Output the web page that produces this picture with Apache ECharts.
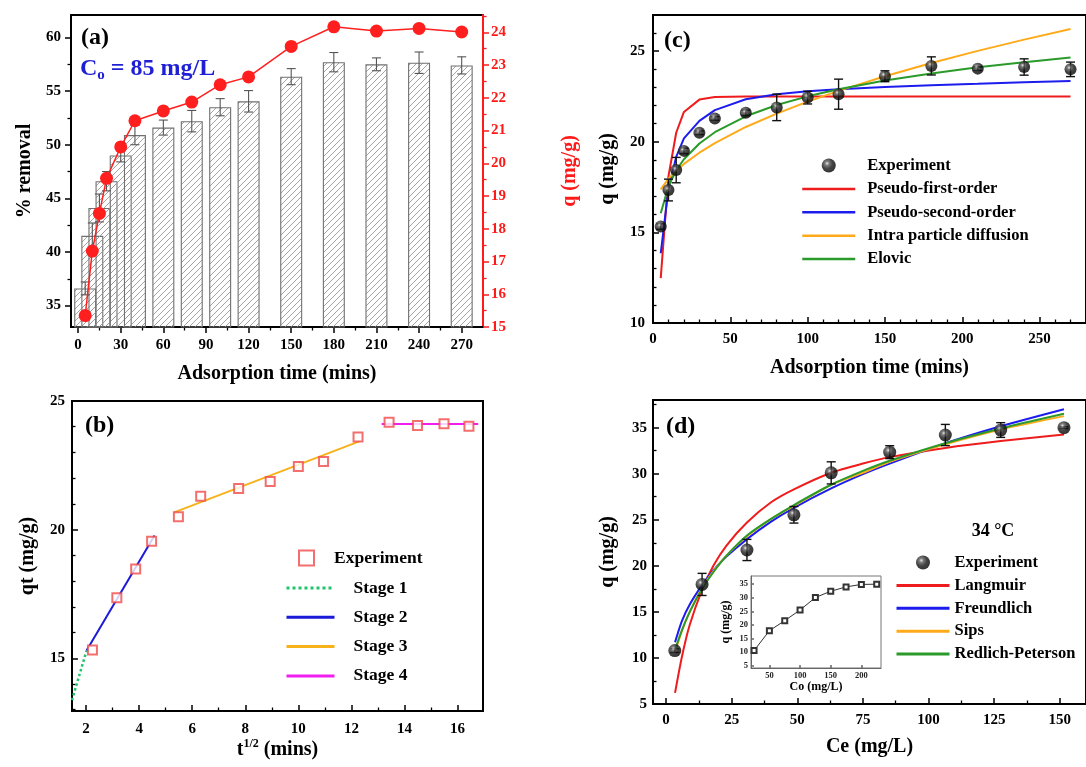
<!DOCTYPE html>
<html><head><meta charset="utf-8">
<script src="https://cdn.jsdelivr.net/npm/echarts@6/dist/echarts.min.js"></script>
<style>html,body{margin:0;padding:0;background:#fff}#c{width:1086px;height:767px}</style>
</head><body><div id="c"></div>
<script>
// ---------- Panel (a) ----------
const timeA = [5,10,15,20,30,40,60,80,100,120,150,180,210,240,270];
const removalPct = [36.6,41.5,44.1,46.6,49.0,50.9,51.6,52.2,53.5,54.05,56.35,57.7,57.5,57.65,57.4];
const removalErr = [0.6,1.2,1.3,0.9,0.6,0.9,0.7,1.0,0.8,1.0,0.75,0.9,0.6,1.0,0.8];
const qA = [15.35,17.32,18.47,19.54,20.5,21.3,21.6,21.87,22.4,22.64,23.57,24.17,24.04,24.12,24.01];
const xMajorA = [0,30,60,90,120,150,180,210,240,270];
const xMinorA = [15,45,75,105,135,165,195,225,255];
const yMajorA = [35,40,45,50,55,60];
const yMinorA = [37.5,42.5,47.5,52.5,57.5];
const y2MajorA = [15,16,17,18,19,20,21,22,23,24];
const y2MinorA = [15.5,16.5,17.5,18.5,19.5,20.5,21.5,22.5,23.5,24.5];
// ---------- Panel (b) ----------
const sqrtT = [2.24,3.16,3.87,4.47,5.48,6.32,7.75,8.94,10.0,10.95,12.25,13.42,14.49,15.49,16.43];
const qtB = [15.32,17.35,18.47,19.55,20.5,21.3,21.6,21.87,22.45,22.65,23.6,24.17,24.05,24.12,24.02];
const stage1X = [1.47,2.02], stage1Y = [13.37,15.3];
const stage2X = [2.02,4.58], stage2Y = [15.3,19.77];
const stage3X = [5.32,12.32], stage3Y = [20.67,23.44];
const stage4X = [13.14,16.78], stage4Y = [24.11,24.11];
const xMajorB = [2,4,6,8,10,12,14,16];
const xMinorB = [3,5,7,9,11,13,15];
const yMajorB = [15,20,25];
const yMinorB = [13,14,16,17,18,19,21,22,23,24];
// ---------- Panel (c) ----------
const timeC = [5,10,15,20,30,40,60,80,100,120,150,180,210,240,270];
const qC = [15.32,17.34,18.44,19.5,20.5,21.29,21.6,21.9,22.44,22.63,23.62,24.19,24.04,24.13,24.0];
const errC = [0.15,0.6,0.7,0.15,0.1,0.1,0.15,0.73,0.35,0.83,0.3,0.5,0.1,0.45,0.4];
const pfoC = [12.48,18.1,20.5,21.65,22.33,22.48,22.5,22.5,22.5,22.5,22.5,22.5,22.5,22.5,22.5];
const psoC = [13.85,17.4,19.17,20.19,21.16,21.75,22.35,22.63,22.79,22.9,23.03,23.12,23.2,23.29,23.36];
const ipdC = [17.38,17.97,18.4,18.78,19.4,19.93,20.82,21.56,22.22,22.81,23.62,24.35,25.02,25.64,26.23];
const elovicC = [16.06,17.55,18.43,19.04,19.91,20.53,21.41,22.03,22.51,22.9,23.38,23.77,24.11,24.39,24.65];
const xMajorC = [0,50,100,150,200,250];
const xMinorC = [10,20,30,40,60,70,80,90,110,120,130,140,160,170,180,190,210,220,230,240,260,270];
const yMajorC = [10,15,20,25];
const yMinorC = [11,12,13,14,16,17,18,19,21,22,23,24,26];
// ---------- Panel (d) ----------
const ceD = [3.3,13.7,30.8,48.7,62.9,85.2,106.4,127.5,151.6];
const qD = [10.8,17.98,21.72,25.54,30.09,32.34,34.2,34.74,35.0];
const errD = [0.2,1.2,1.15,0.9,1.2,0.7,1.15,0.8,0.1];
const ceFit = [3.4,6,9,13.7,18,23,30.8,40,48.7,62.9,75,85.2,106.4,127.5,151.6];
const langD = [6.2,10.1,13.6,17.4,20.0,22.2,24.7,26.9,28.3,30.1,31.1,31.8,32.8,33.55,34.25];
const freuD = [11.7,14.0,15.8,17.9,19.5,21.0,22.9,24.8,26.3,28.4,29.95,31.1,33.3,35.15,37.0];
const sipsD = [10.6,12.9,15.0,17.6,19.4,21.1,23.2,25.1,26.5,28.8,30.1,31.3,33.2,34.8,36.25];
const rpD = [10.9,13.0,15.0,17.5,19.3,21.1,23.3,25.1,26.6,28.8,30.3,31.4,33.3,34.9,36.5];
const xMajorD = [0,25,50,75,100,125,150];
const xMinorD = [12.5,37.5,62.5,87.5,112.5,137.5];
const yMajorD = [5,10,15,20,25,30,35];
const yMinorD = [7.5,12.5,17.5,22.5,27.5,32.5,37.5];
// inset
const coInset = [25,50,75,100,125,150,175,200,225];
const qInset = [10.6,17.9,21.6,25.5,30.1,32.4,34.0,34.9,35.0];
const xMajorIn = [50,100,150,200];
const yMajorIn = [5,10,15,20,25,30,35];

const FONT = 'Liberation Serif';
const pair = (xs, ys) => xs.map((x, i) => [x, ys[i]]);
const trip = (xs, ys, es) => xs.map((x, i) => [x, ys[i], es[i]]);

function hatch(){
  const c = document.createElement('canvas'); c.width = 6; c.height = 6;
  const g = c.getContext('2d');
  g.strokeStyle = '#9a9a9a'; g.lineWidth = 0.9;
  g.beginPath();
  g.moveTo(0,6); g.lineTo(6,0);
  g.moveTo(-1,1); g.lineTo(1,-1);
  g.moveTo(5,7); g.lineTo(7,5);
  g.stroke();
  return c;
}
const sphere = {type:'radial', x:0.38, y:0.35, r:0.7, colorStops:[
  {offset:0, color:'#e0e0e0'},{offset:0.22, color:'#5a5a5a'},{offset:0.55, color:'#151515'},{offset:1, color:'#000'}]};

function errRender(capW, color, lw){
  return function(params, api){
    const x = api.value(0), y = api.value(1), e = api.value(2);
    const t = api.coord([x, y + e]), b = api.coord([x, y - e]);
    const h = capW / 2, st = {stroke: color, lineWidth: lw};
    return {type:'group', children:[
      {type:'line', shape:{x1:t[0], y1:t[1], x2:b[0], y2:b[1]}, style:st},
      {type:'line', shape:{x1:t[0]-h, y1:t[1], x2:t[0]+h, y2:t[1]}, style:st},
      {type:'line', shape:{x1:b[0]-h, y1:b[1], x2:b[0]+h, y2:b[1]}, style:st}
    ]};
  };
}

const lbl = (vals, margin, extra) => Object.assign({customValues: vals, color:'#000', fontFamily: FONT, fontWeight:'bold', fontSize: 15, margin: margin}, extra || {});
const nameStyle = (extra) => Object.assign({color:'#000', fontFamily: FONT, fontWeight:'bold', fontSize: 20}, extra || {});

function mainAxis(o){
  return Object.assign({
    type:'value', splitLine:{show:false},
    axisLine:{show:true, onZero:false, lineStyle:{color: o.color || '#000', width: o.lw || 2}},
    axisTick:{show:true, inside: o.inside, length: o.tickLen || 6, customValues: o.ticks, lineStyle:{color: o.color || '#000', width: 1.5}},
    axisLabel: lbl(o.labels, o.margin, o.labelExtra),
  }, o.rest);
}
function minorAxis(o){
  return Object.assign({
    type:'value', splitLine:{show:false},
    axisLine:{show:false, onZero:false},
    axisTick:{show:true, inside: o.inside, length: o.tickLen || 3.5, customValues: o.ticks, lineStyle:{color: o.color || '#000', width: 1.3}},
    axisLabel:{show:false},
  }, o.rest);
}

const xAxes = [
  // 0,1: a
  mainAxis({inside:false, ticks:xMajorA, labels:xMajorA, margin:11, rest:{gridIndex:0, position:'bottom', min:-5, max:285, name:'Adsorption time (mins)', nameLocation:'middle', nameGap:37, nameTextStyle:nameStyle()}}),
  minorAxis({inside:false, ticks:xMinorA, rest:{gridIndex:0, position:'bottom', min:-5, max:285}}),
  // 2,3: b
  mainAxis({inside:true, ticks:xMajorB, labels:xMajorB, margin:11, rest:{gridIndex:1, position:'bottom', min:1.47, max:16.96,
    name:'{t|t}{s|1/2}{t| (mins)}', nameLocation:'middle', nameGap:27,
    nameTextStyle:{rich:{t:{fontFamily:FONT, fontWeight:'bold', fontSize:20, lineHeight:24, color:'#000'}, s:{fontFamily:FONT, fontWeight:'bold', fontSize:12, lineHeight:12, verticalAlign:'top', color:'#000'}}}}}),
  minorAxis({inside:true, ticks:xMinorB, rest:{gridIndex:1, position:'bottom', min:1.47, max:16.96}}),
  // 4,5: c
  mainAxis({inside:true, ticks:xMajorC, labels:xMajorC, margin:9, rest:{gridIndex:2, position:'bottom', min:0, max:280, name:'Adsorption time (mins)', nameLocation:'middle', nameGap:35, nameTextStyle:nameStyle()}}),
  minorAxis({inside:true, ticks:xMinorC, rest:{gridIndex:2, position:'bottom', min:0, max:280}}),
  // 6,7: d
  mainAxis({inside:true, ticks:xMajorD, labels:xMajorD, margin:9, rest:{gridIndex:3, position:'bottom', min:-5, max:160, name:'Ce (mg/L)', nameLocation:'middle', nameGap:33, nameTextStyle:nameStyle()}}),
  minorAxis({inside:true, ticks:xMinorD, rest:{gridIndex:3, position:'bottom', min:-5, max:160}}),
  // 8: inset
  mainAxis({inside:true, lw:1, color:'#666', tickLen:3, ticks:xMajorIn, labels:xMajorIn, margin:3, labelExtra:{fontSize:8.5, color:'#222'},
    rest:{gridIndex:4, position:'bottom', min:20, max:232, name:'Co (mg/L)', nameLocation:'middle', nameGap:12, nameTextStyle:nameStyle({fontSize:12})}})
];
const yAxes = [
  // 0: a left
  mainAxis({inside:false, ticks:yMajorA, labels:yMajorA, margin:10, rest:{gridIndex:0, position:'left', min:33, max:62.1, name:'% removal', nameLocation:'middle', nameGap:36, nameRotate:90, nameTextStyle:nameStyle()}}),
  // 1: a right
  mainAxis({inside:false, color:'#ff1a1a', ticks:y2MajorA, labels:y2MajorA, margin:8, labelExtra:{color:'#ff1a1a'}, rest:{gridIndex:0, position:'right', min:15, max:24.53, name:'q (mg/g)', nameLocation:'middle', nameGap:77, nameRotate:90, nameTextStyle:nameStyle({color:'#ff1a1a'})}}),
  // 2,3: a minor
  minorAxis({inside:false, ticks:yMinorA, rest:{gridIndex:0, position:'left', min:33, max:62.1}}),
  minorAxis({inside:false, color:'#ff1a1a', ticks:y2MinorA, rest:{gridIndex:0, position:'right', min:15, max:24.53}}),
  // 4,5: b
  mainAxis({inside:true, ticks:yMajorB, labels:yMajorB, margin:7, rest:{gridIndex:1, position:'left', min:12.95, max:25, name:'qt (mg/g)', nameLocation:'middle', nameGap:34, nameRotate:90, nameTextStyle:nameStyle()}}),
  minorAxis({inside:true, ticks:yMinorB, rest:{gridIndex:1, position:'left', min:12.95, max:25}}),
  // 6,7: c
  mainAxis({inside:true, ticks:yMajorC, labels:yMajorC, margin:8, rest:{gridIndex:2, position:'left', min:10, max:27, name:'q (mg/g)', nameLocation:'middle', nameGap:35, nameRotate:90, nameTextStyle:nameStyle()}}),
  minorAxis({inside:true, ticks:yMinorC, rest:{gridIndex:2, position:'left', min:10, max:27}}),
  // 8,9: d
  mainAxis({inside:true, ticks:yMajorD, labels:yMajorD, margin:6, rest:{gridIndex:3, position:'left', min:5, max:38, name:'q (mg/g)', nameLocation:'middle', nameGap:35, nameRotate:90, nameTextStyle:nameStyle()}}),
  minorAxis({inside:true, ticks:yMinorD, rest:{gridIndex:3, position:'left', min:5, max:38}}),
  // 10: inset
  mainAxis({inside:true, lw:1, color:'#666', tickLen:3, ticks:yMajorIn, labels:yMajorIn, margin:3, labelExtra:{fontSize:8.5, color:'#222'},
    rest:{gridIndex:4, position:'left', min:4.2, max:38, name:'q (mg/g)', nameLocation:'middle', nameGap:19, nameRotate:90, nameTextStyle:nameStyle({fontSize:12})}})
];

const legText = {fontFamily:FONT, fontWeight:'bold', fontSize:16.5, color:'#000', lineHeight:14};
const stripName = n => n.split('_')[0];
const lineItem = n => ({name:n, itemStyle:{opacity:0}});

const option = {
  animation:false,
  backgroundColor:'#fff',
  grid:[
    {left:71, top:15, width:412, height:312, show:true, borderColor:'#000', borderWidth:2, backgroundColor:'transparent'},
    {left:72, top:401, width:411, height:310, show:true, borderColor:'#000', borderWidth:2, backgroundColor:'transparent'},
    {left:653, top:15, width:448, height:308, show:true, borderColor:'#000', borderWidth:2, backgroundColor:'transparent'},
    {left:653, top:400, width:433, height:304, show:true, borderColor:'#000', borderWidth:2, backgroundColor:'transparent'},
    {left:751, top:576, width:130, height:92, show:true, borderColor:'#777', borderWidth:1, backgroundColor:'#fff'}
  ],
  xAxis: xAxes,
  yAxis: yAxes,
  legend:[
    {data:['Experiment_b'], formatter:stripName, selectedMode:false, orient:'vertical', left:298, top:549, padding:0, itemWidth:15, itemHeight:15, textStyle:Object.assign({padding:[0,0,0,15]}, legText, {fontSize:17.5, lineHeight:15})},
    {data:['Stage 1','Stage 2','Stage 3','Stage 4'].map(lineItem), selectedMode:false, orient:'vertical', left:285, top:579, padding:0, itemWidth:48, itemHeight:14, itemGap:11.3, lineStyle:{width:3}, textStyle:Object.assign({padding:[0,0,0,14]}, legText, {fontSize:17.5})},
    {data:['Experiment_c'].concat(['Pseudo-first-order','Pseudo-second-order','Intra particle diffusion','Elovic'].map(lineItem)), formatter:stripName, selectedMode:false, orient:'vertical', left:801, top:157, padding:0, itemWidth:53, itemHeight:14, itemGap:6.4, lineStyle:{width:2.5}, textStyle:Object.assign({padding:[0,0,0,7]}, legText)},
    {data:['Experiment_d'].concat(['Langmuir','Freundlich','Sips','Redlich-Peterson'].map(lineItem)), formatter:stripName, selectedMode:false, orient:'vertical', left:895, top:554, padding:0, itemWidth:53, itemHeight:14, itemGap:5.9, lineStyle:{width:3}, textStyle:Object.assign({}, legText)}
  ],
  graphic:[
    {type:'text', z:100, style:{x:81, y:38, text:'(a)', font:'bold 24px "Liberation Serif"', fill:'#000', align:'left', verticalAlign:'middle'}},
    {type:'text', z:100, style:{x:85, y:426, text:'(b)', font:'bold 24px "Liberation Serif"', fill:'#000', align:'left', verticalAlign:'middle'}},
    {type:'text', z:100, style:{x:664, y:41, text:'(c)', font:'bold 24px "Liberation Serif"', fill:'#000', align:'left', verticalAlign:'middle'}},
    {type:'text', z:100, style:{x:666, y:427, text:'(d)', font:'bold 24px "Liberation Serif"', fill:'#000', align:'left', verticalAlign:'middle'}},
    {type:'text', z:100, style:{x:80, y:69, text:'{m|C}{s|o}{m| = 85 mg/L}', align:'left', verticalAlign:'middle',
      rich:{m:{fontFamily:FONT, fontWeight:'bold', fontSize:24, lineHeight:28, fill:'#1f1fd6'}, s:{fontFamily:FONT, fontWeight:'bold', fontSize:15, lineHeight:15, verticalAlign:'bottom', fill:'#1f1fd6'}}}},
    {type:'text', z:100, style:{x:993, y:531, text:'34 °C', font:'bold 18px "Liberation Serif"', fill:'#000', align:'center', verticalAlign:'middle'}}
  ],
  series:[
    // (a)
    {type:'bar', name:'removal', xAxisIndex:0, yAxisIndex:0, data:pair(timeA, removalPct), barWidth:22, barGap:'-100%',
      itemStyle:{color:{image:hatch(), repeat:'repeat'}, borderColor:'#707070', borderWidth:1.1}, z:2},
    {type:'custom', name:'removalErr', xAxisIndex:0, yAxisIndex:0, data:trip(timeA, removalPct, removalErr), renderItem:errRender(9, '#555', 1.1), z:3},
    {type:'line', name:'qA', xAxisIndex:0, yAxisIndex:1, data:pair(timeA, qA), symbol:'circle', symbolSize:13,
      lineStyle:{color:'#ff1f1f', width:1.5}, itemStyle:{color:'#ff1f1f'}, z:4},
    // (b)
    {type:'line', name:'Stage 1', xAxisIndex:2, yAxisIndex:4, data:pair(stage1X, stage1Y), symbol:'none', lineStyle:{color:'#1fc46a', width:2.5, type:'dotted'}, itemStyle:{color:'#1fc46a'}},
    {type:'line', name:'Stage 2', xAxisIndex:2, yAxisIndex:4, data:pair(stage2X, stage2Y), symbol:'none', lineStyle:{color:'#1a1ad8', width:2}, itemStyle:{color:'#1a1ad8'}},
    {type:'line', name:'Stage 3', xAxisIndex:2, yAxisIndex:4, data:pair(stage3X, stage3Y), symbol:'none', lineStyle:{color:'#f7b21a', width:2}, itemStyle:{color:'#f7b21a'}},
    {type:'line', name:'Stage 4', xAxisIndex:2, yAxisIndex:4, data:pair(stage4X, stage4Y), symbol:'none', lineStyle:{color:'#f01ef0', width:2}, itemStyle:{color:'#f01ef0'}},
    {type:'scatter', name:'Experiment_b', xAxisIndex:2, yAxisIndex:4, data:pair(sqrtT, qtB), symbol:'emptyRect', symbolSize:9,
      itemStyle:{color:'#f04a4a', borderColor:'#f04a4a', borderWidth:1.1}, z:5},
    // (c)
    {type:'line', name:'Pseudo-first-order', xAxisIndex:4, yAxisIndex:6, data:pair(timeC, pfoC), symbol:'none', lineStyle:{color:'#ee1c1c', width:2}, itemStyle:{color:'#ee1c1c'}},
    {type:'line', name:'Pseudo-second-order', xAxisIndex:4, yAxisIndex:6, data:pair(timeC, psoC), symbol:'none', lineStyle:{color:'#1c1cee', width:2}, itemStyle:{color:'#1c1cee'}},
    {type:'line', name:'Intra particle diffusion', xAxisIndex:4, yAxisIndex:6, data:pair(timeC, ipdC), symbol:'none', lineStyle:{color:'#ffaa1a', width:2}, itemStyle:{color:'#ffaa1a'}},
    {type:'line', name:'Elovic', xAxisIndex:4, yAxisIndex:6, data:pair(timeC, elovicC), symbol:'none', lineStyle:{color:'#2a9a2a', width:2}, itemStyle:{color:'#2a9a2a'}},
    {type:'custom', name:'errC', xAxisIndex:4, yAxisIndex:6, data:trip(timeC, qC, errC), renderItem:errRender(9, '#111', 1.4), z:4},
    {type:'scatter', name:'Experiment_c', xAxisIndex:4, yAxisIndex:6, data:pair(timeC, qC), symbol:'circle', symbolSize:12, itemStyle:{color:sphere}, z:5},
    // (d)
    {type:'line', name:'Langmuir', xAxisIndex:6, yAxisIndex:8, data:pair(ceFit, langD), symbol:'none', smooth:0.25, lineStyle:{color:'#ee1c1c', width:2}, itemStyle:{color:'#ee1c1c'}},
    {type:'line', name:'Freundlich', xAxisIndex:6, yAxisIndex:8, data:pair(ceFit, freuD), symbol:'none', smooth:0.25, lineStyle:{color:'#1c1cee', width:2}, itemStyle:{color:'#1c1cee'}},
    {type:'line', name:'Sips', xAxisIndex:6, yAxisIndex:8, data:pair(ceFit, sipsD), symbol:'none', smooth:0.25, lineStyle:{color:'#ffaa1a', width:2}, itemStyle:{color:'#ffaa1a'}},
    {type:'line', name:'Redlich-Peterson', xAxisIndex:6, yAxisIndex:8, data:pair(ceFit, rpD), symbol:'none', smooth:0.25, lineStyle:{color:'#2a9a2a', width:2}, itemStyle:{color:'#2a9a2a'}},
    {type:'custom', name:'errD', xAxisIndex:6, yAxisIndex:8, data:trip(ceD, qD, errD), renderItem:errRender(9, '#111', 1.4), z:4},
    {type:'scatter', name:'Experiment_d', xAxisIndex:6, yAxisIndex:8, data:pair(ceD, qD), symbol:'circle', symbolSize:13, itemStyle:{color:sphere}, z:5},
    // inset
    {type:'line', name:'inset', xAxisIndex:8, yAxisIndex:10, data:pair(coInset, qInset), symbol:'emptyRect', symbolSize:5,
      lineStyle:{color:'#333', width:1}, itemStyle:{color:'#333', borderWidth:0.8}, z:6}
  ]
};
const chart = echarts.init(document.getElementById('c'), null, {renderer:'canvas'});
chart.setOption(option);
</script>
</body></html>
